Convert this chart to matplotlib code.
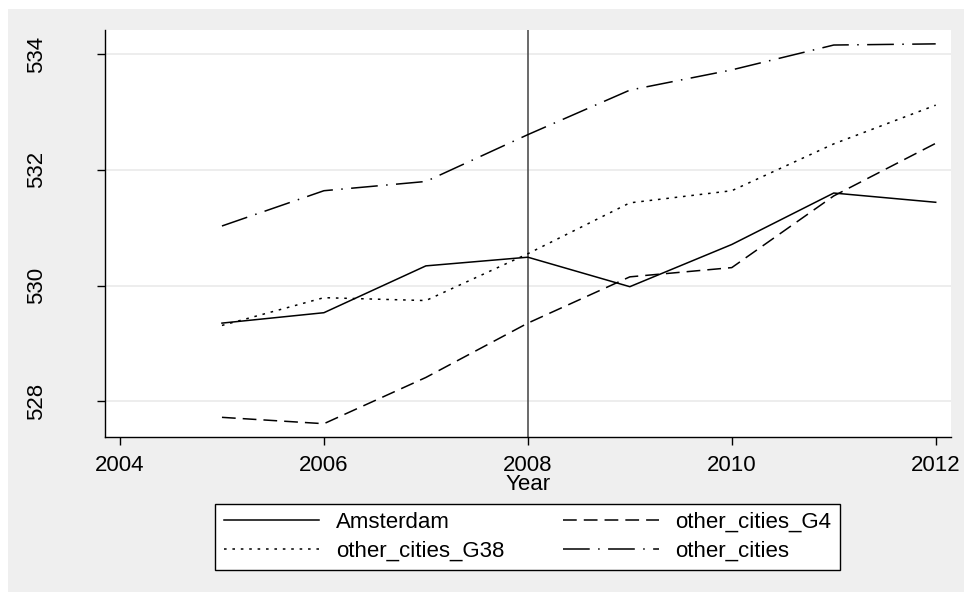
import matplotlib
matplotlib.use("Agg")
import matplotlib.pyplot as plt
from matplotlib.patches import Rectangle

years = [2005, 2006, 2007, 2008, 2009, 2010, 2011, 2012]
amsterdam = [529.35, 529.53, 530.34, 530.49, 529.98, 530.71, 531.60, 531.44]
other_cities_g38 = [529.31, 529.79, 529.74, 530.55, 531.43, 531.64, 532.45, 533.12]
other_cities_g4 = [527.72, 527.61, 528.41, 529.35, 530.15, 530.31, 531.55, 532.46]
other_cities = [531.03, 531.64, 531.80, 532.61, 533.38, 533.73, 534.16, 534.18]

x_ticks = [2004, 2006, 2008, 2010, 2012]
y_ticks = [528, 530, 532, 534]
reference_year = 2008

plt.rcParams['font.family'] = ['Liberation Sans', 'DejaVu Sans']

W, H = 964, 592
fig = plt.figure(figsize=(W / 100, H / 100), dpi=100, facecolor='white')

# light gray graph region
fig.patches.append(Rectangle((8 / W, 0), 1 - 8 / W, 1 - 9 / H,
                             transform=fig.transFigure, facecolor='#efefef',
                             edgecolor='none', zorder=-10))

left, right, top, bottom = 105, 951, 30, 437
ax = fig.add_axes([left / W, 1 - bottom / H, (right - left) / W, (bottom - top) / H])
ax.set_facecolor('white')

lw = 1.1
ax.plot(years, amsterdam, color='black', lw=lw, label='Amsterdam')
ax.plot(years, other_cities_g4, color='black', lw=lw, dashes=(9, 4.6), label='other_cities_G4')
ax.plot(years, other_cities_g38, color='black', lw=lw, dashes=(1.7, 3.8), label='other_cities_G38')
ax.plot(years, other_cities, color='black', lw=lw, dashes=(17.5, 5.5, 1, 5.5), label='other_cities')

ax.axvline(reference_year, color='#505050', lw=1.2, zorder=1)

ax.set_xlim(2003.853, 2012.15)
ax.set_ylim(527.38, 534.42)
ax.set_xticks(x_ticks)
ax.set_yticks(y_ticks)
ax.set_xticklabels([str(v) for v in x_ticks])
ax.set_yticklabels([str(v) for v in y_ticks], rotation=90, va='center')

ax.yaxis.grid(True, color='#e8e8e8', lw=1.1)
ax.set_axisbelow(True)
for s in ('top', 'right'):
    ax.spines[s].set_visible(False)
for s in ('left', 'bottom'):
    ax.spines[s].set_linewidth(1.0)
    ax.spines[s].set_color('black')

ax.tick_params(axis='both', direction='out', length=5.8, width=1.0, labelsize=16, colors='black')
ax.tick_params(axis='y', pad=36)
ax.tick_params(axis='x', pad=7)
ax.set_xlabel('Year', fontsize=16, labelpad=-1)

handles, labels = ax.get_legend_handles_labels()
order = [0, 2, 1, 3]
leg = fig.legend([handles[i] for i in order], [labels[i] for i in order],
                 loc='center', bbox_to_anchor=(527.5 / W, 1 - 537 / H),
                 bbox_transform=fig.transFigure, ncol=2, fontsize=16,
                 frameon=True, fancybox=False, edgecolor='black',
                 facecolor='white', framealpha=1, handlelength=4.3,
                 handletextpad=0.75, columnspacing=2.65, labelspacing=0.36,
                 borderpad=0.38, borderaxespad=0)
leg.get_frame().set_linewidth(1.0)

fig.savefig('out.png', dpi=100, facecolor=fig.get_facecolor())
